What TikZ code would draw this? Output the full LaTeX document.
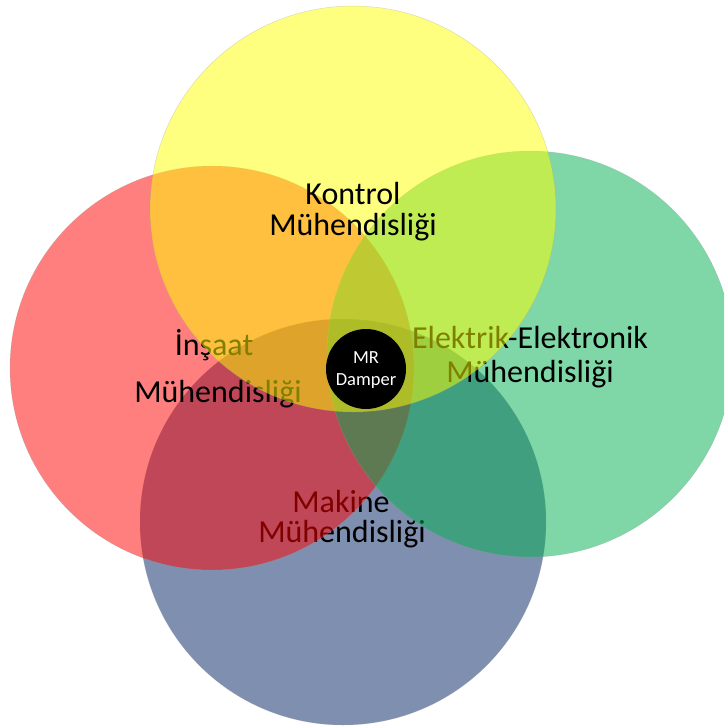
\documentclass[tikz,border=0pt]{standalone}
\usepackage{fontspec}
\setmainfont{Carlito}
\definecolor{cyel}{RGB}{255,255,0}
\definecolor{cred}{RGB}{255,0,0}
\definecolor{cgrn}{RGB}{0,176,80}
\definecolor{cblu}{RGB}{0,32,96}
\tikzset{
  disc/.style={fill=#1, fill opacity=0.5, draw=black!40, draw opacity=0.35, line width=0.5pt},
  lbl/.style={anchor=base, inner sep=0pt, font=\fontsize{32}{32}\selectfont, text=black},
  small/.style={anchor=base, inner sep=0pt, font=\fontsize{18.5}{19}\selectfont, text=white}
}
\begin{document}
\begin{tikzpicture}[x=1pt,y=-1pt]
\useasboundingbox (0,0) rectangle (724,728);
\clip (0,0) rectangle (724,728);
% blue circle and its text
\path[disc=cblu] (343,522) circle (203);
\node[lbl] (mak1) at (341,512) {Makine};
\node[lbl] (mak2) at (342,542) {Mühendisliği};
% red circle and its text
\path[disc=cred] (212,368) circle (202);
\node[lbl] (ins1) at (214,355) {İnşaat};
\node[lbl] (ins2) at (218,402) {Mühendisliği};
% green circle and its text
\path[disc=cgrn] (530,354) circle (203);
\node[lbl] (ele1) at (530,348) {Elektrik-Elektronik};
\node[lbl] (ele2) at (530,382) {Mühendisliği};
% yellow circle and its text
\path[disc=cyel] (353,209) circle (203);
\node[lbl] (kon1) at (353,204) {Kontrol};
\node[lbl] (kon2) at (353,235) {Mühendisliği};
% MR damper
\node[circle, fill=black, minimum size=80pt, inner sep=0pt] (mr) at (366,369) {};
\node[small] (mr1) at (366,363) {MR};
\node[small] (mr2) at (366,385) {Damper};
\end{tikzpicture}
\end{document}
